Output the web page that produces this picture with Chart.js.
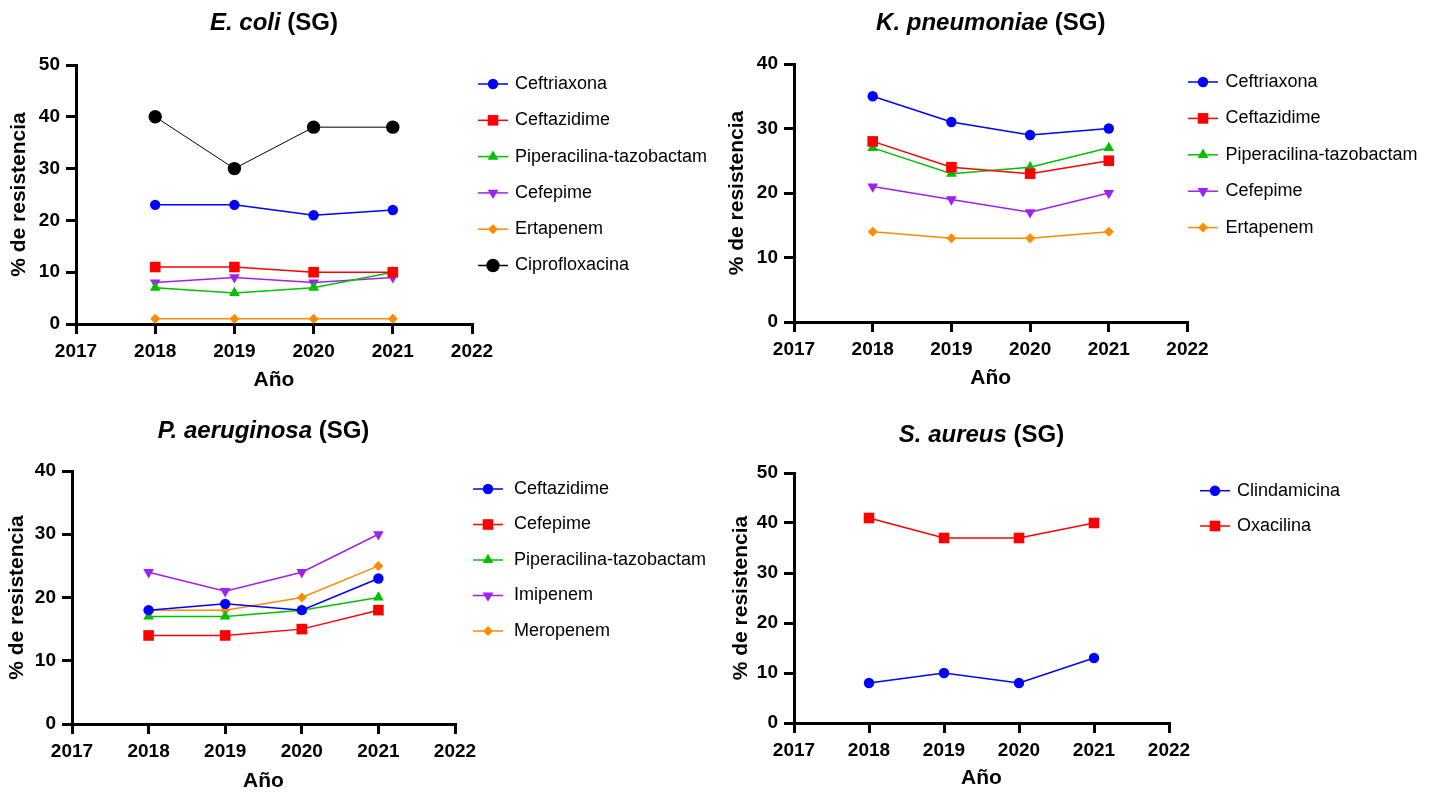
<!DOCTYPE html>
<html lang="es">
<head>
  <meta charset="UTF-8">
  <title>% de resistencia por año (SG)</title>
  <style>
    html, body { margin: 0; padding: 0; background: #fff; overflow: hidden; }
    body { width: 1437px; height: 792px; position: relative; }
    canvas { position: absolute; }
  </style>
</head>
<body>
  <canvas id="c1"></canvas>
  <canvas id="c2"></canvas>
  <canvas id="c3"></canvas>
  <canvas id="c4"></canvas>

  <script src="https://cdn.jsdelivr.net/npm/chart.js"></script>
  <script>
    // años con datos y rango del eje x
    const years = [2018, 2019, 2020, 2021];
    const xMin = 2017, xMax = 2022;

    const ecoliDrugs = ['Ceftriaxona', 'Ceftazidime', 'Piperacilina-tazobactam', 'Cefepime', 'Ertapenem', 'Ciprofloxacina'];
    const ecoliValues = [
      [23, 23, 21, 22],
      [11, 11, 10, 10],
      [7, 6, 7, 10],
      [8, 9, 8, 9],
      [1, 1, 1, 1],
      [40, 30, 38, 38]
    ];

    const kpnDrugs = ['Ceftriaxona', 'Ceftazidime', 'Piperacilina-tazobactam', 'Cefepime', 'Ertapenem'];
    const kpnValues = [
      [35, 31, 29, 30],
      [28, 24, 23, 25],
      [27, 23, 24, 27],
      [21, 19, 17, 20],
      [14, 13, 13, 14]
    ];

    const paeDrugs = ['Ceftazidime', 'Cefepime', 'Piperacilina-tazobactam', 'Imipenem', 'Meropenem'];
    const paeValues = [
      [18, 19, 18, 23],
      [14, 14, 15, 18],
      [17, 17, 18, 20],
      [24, 21, 24, 30],
      [18, 18, 20, 25]
    ];

    const sauDrugs = ['Clindamicina', 'Oxacilina'];
    const sauValues = [
      [8, 10, 8, 13],
      [41, 37, 37, 40]
    ];

    // estilo de cada serie según su posición
    const styles = [
      { color: '#0000ff', pointStyle: 'circle', radius: 5.2, rotation: 0, width: 1.5 },
      { color: '#ff0000', pointStyle: 'rect', radius: 7.5, rotation: 0, width: 1.5 },
      { color: '#00c000', pointStyle: 'triangle', radius: 6.2, rotation: 0, width: 1.5 },
      { color: '#a020f0', pointStyle: 'triangle', radius: 6.2, rotation: 180, width: 1.5 },
      { color: '#ff8c00', pointStyle: 'rectRot', radius: 5, rotation: 0, width: 1.5 },
      { color: '#000000', pointStyle: 'circle', radius: 6.7, rotation: 0, width: 1 }
    ];

    const FONT = 'Arial, "Liberation Sans", Helvetica, sans-serif';
    Chart.defaults.font.family = FONT;
    Chart.defaults.color = '#000';

    const panelTitle = {
      id: 'panelTitle',
      afterDraw(chart, args, opts) {
        const ctx = chart.ctx, a = chart.chartArea;
        ctx.save();
        ctx.fillStyle = '#000';
        ctx.textBaseline = 'middle';
        ctx.font = 'italic bold 24px ' + FONT;
        const w1 = ctx.measureText(opts.italic).width;
        ctx.font = 'bold 24px ' + FONT;
        const w2 = ctx.measureText(opts.rest).width;
        let x = (a.left + a.right) / 2 - (w1 + w2) / 2;
        ctx.font = 'italic bold 24px ' + FONT;
        ctx.fillText(opts.italic, x, opts.y);
        ctx.font = 'bold 24px ' + FONT;
        ctx.fillText(opts.rest, x + w1, opts.y);
        ctx.restore();
      }
    };

    const sideLegend = {
      id: 'sideLegend',
      afterDraw(chart, args, opts) {
        const ctx = chart.ctx;
        chart.data.datasets.forEach((ds, i) => {
          const y = opts.y + i * opts.dy;
          ctx.save();
          ctx.strokeStyle = ds.borderColor;
          ctx.fillStyle = ds.borderColor;
          ctx.lineWidth = 1.5;
          ctx.beginPath();
          ctx.moveTo(opts.x, y);
          ctx.lineTo(opts.x + 30, y);
          ctx.stroke();
          Chart.helpers.drawPoint(ctx, {
            pointStyle: ds.pointStyle, rotation: ds.pointRotation,
            radius: ds.pointRadius, borderWidth: 0
          }, opts.x + 15, y);
          ctx.fillStyle = '#000';
          ctx.font = '18px ' + FONT;
          ctx.textBaseline = 'middle';
          ctx.fillText(ds.label, opts.x + opts.tx, y);
          ctx.restore();
        });
      }
    };

    function makePanel(p) {
      const canvas = document.getElementById(p.id);
      canvas.width = p.w;
      canvas.height = p.h;
      canvas.style.left = p.left + 'px';
      canvas.style.top = p.top + 'px';

      const datasets = p.drugs.map((name, i) => {
        const s = styles[i];
        return {
          label: name,
          data: years.map((yr, j) => ({ x: yr, y: p.values[i][j] })),
          borderColor: s.color,
          backgroundColor: s.color,
          borderWidth: s.width,
          pointStyle: s.pointStyle,
          pointRotation: s.rotation,
          pointRadius: s.radius,
          pointBorderWidth: 0,
          pointHoverRadius: s.radius,
          tension: 0,
          clip: false
        };
      });

      const axisGrid = { drawOnChartArea: false, drawTicks: true, tickLength: 10, color: '#000', lineWidth: 3 };
      const axisBorder = { display: true, color: '#000', width: 3 };

      new Chart(canvas, {
        type: 'line',
        data: { datasets },
        plugins: [panelTitle, sideLegend],
        options: {
          responsive: false,
          animation: false,
          devicePixelRatio: 1,
          layout: { padding: { left: 0, top: p.area.t, right: p.w - p.area.r, bottom: 0 } },
          plugins: {
            legend: { display: false },
            tooltip: { enabled: false },
            panelTitle: { italic: p.title[0], rest: p.title[1], y: p.titleY },
            sideLegend: { x: p.legend.x, y: p.legend.y, dy: p.legend.dy, tx: p.legend.tx }
          },
          scales: {
            x: {
              type: 'linear', min: xMin, max: xMax,
              grid: axisGrid, border: axisBorder,
              ticks: { stepSize: 1, padding: 6, font: { size: 19, weight: 'bold' }, callback: v => String(v) },
              title: { display: true, text: 'Año', font: { size: 21, weight: 'bold' }, padding: { top: 0, bottom: p.xTitlePad } },
              afterFit: s => { s.height = p.h - p.area.b; }
            },
            y: {
              min: 0, max: p.yMax,
              grid: axisGrid, border: axisBorder,
              ticks: { stepSize: 10, padding: 6, font: { size: 19, weight: 'bold' } },
              title: { display: true, text: '% de resistencia', font: { size: 21, weight: 'bold' }, padding: { top: p.yTitlePad, bottom: 0 } },
              afterFit: s => { s.width = p.area.l; }
            }
          }
        }
      });
    }

    makePanel({ id: 'c1', left: 0, top: 0, w: 718, h: 396, area: { l: 76, t: 65, r: 472, b: 324 },
      yMax: 50, title: ['E. coli', ' (SG)'], titleY: 23, drugs: ecoliDrugs, values: ecoliValues,
      legend: { x: 478, y: 84, dy: 36.3, tx: 37 }, yTitlePad: 6.4, xTitlePad: 3.4 });

    makePanel({ id: 'c2', left: 719, top: 0, w: 718, h: 396, area: { l: 75, t: 64, r: 468.5, b: 322 },
      yMax: 40, title: ['K. pneumoniae', ' (SG)'], titleY: 23.5, drugs: kpnDrugs, values: kpnValues,
      legend: { x: 469, y: 82, dy: 36.4, tx: 37.5 }, yTitlePad: 5.4, xTitlePad: 5.4 });

    makePanel({ id: 'c3', left: 0, top: 396, w: 718, h: 400, area: { l: 72, t: 75, r: 455, b: 328 },
      yMax: 40, title: ['P. aeruginosa', ' (SG)'], titleY: 35.5, drugs: paeDrugs, values: paeValues,
      legend: { x: 473, y: 93, dy: 35.5, tx: 41 }, yTitlePad: 4.4, xTitlePad: 1.7 });

    makePanel({ id: 'c4', left: 719, top: 396, w: 718, h: 400, area: { l: 75, t: 77, r: 450, b: 327 },
      yMax: 50, title: ['S. aureus', ' (SG)'], titleY: 39, drugs: sauDrugs, values: sauValues,
      legend: { x: 481, y: 94.7, dy: 35.3, tx: 37 }, yTitlePad: 9.4, xTitlePad: 5.1 });
  </script>
</body>
</html>
